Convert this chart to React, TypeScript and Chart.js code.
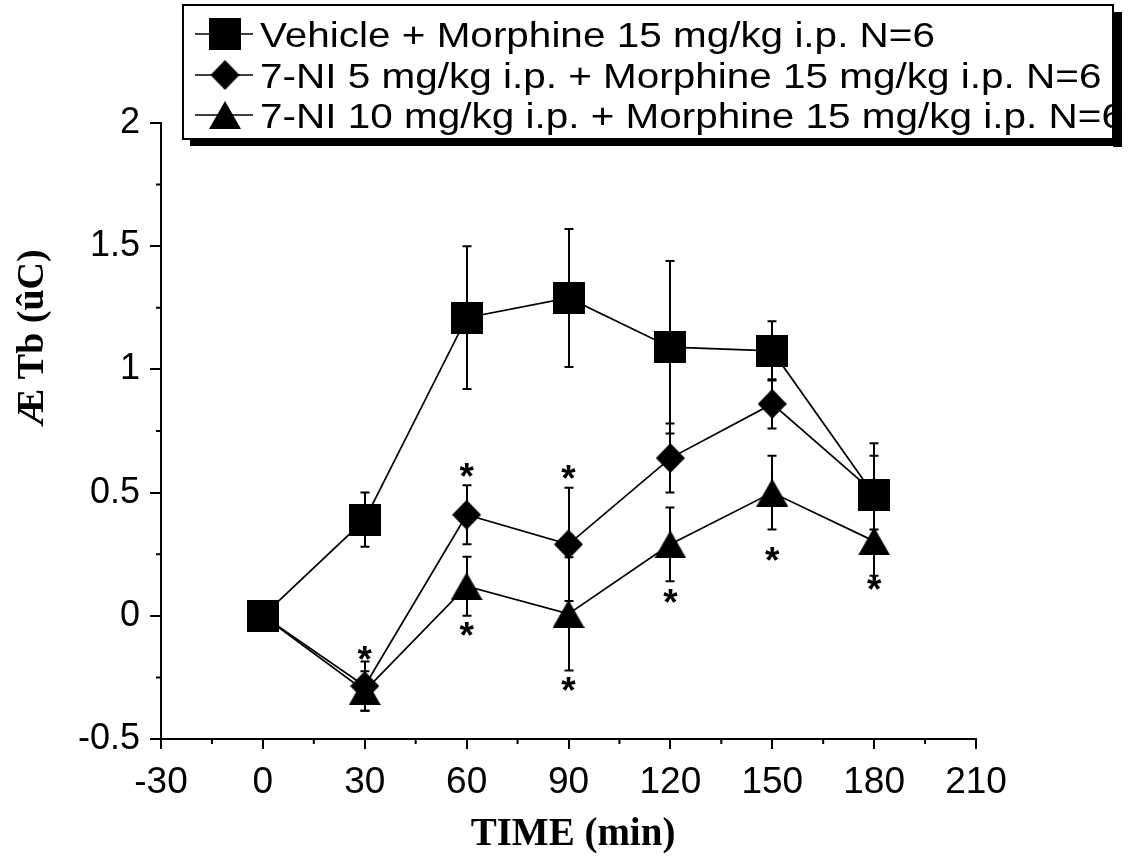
import React, { useEffect, useRef } from "react";
import { Chart, registerables } from "chart.js";

Chart.register(...registerables);

// ---- data ----
const times = [0, 30, 60, 90, 120, 150, 180];
const vehicle = [0, 0.39, 1.21, 1.29, 1.09, 1.075, 0.49];
const vehicleErr = [0, 0.11, 0.29, 0.28, 0.35, 0.12, 0.21];
const ni5 = [0, -0.285, 0.41, 0.29, 0.64, 0.86, 0.5];
const ni5Err = [0, 0.1, 0.12, 0.23, 0.14, 0.1, 0.15];
const ni10 = [0, -0.305, 0.12, 0.008, 0.29, 0.5, 0.303];
const ni10Err = [0, 0.08, 0.12, 0.23, 0.15, 0.15, 0.14];

const seriesLabels = [
  "Vehicle + Morphine 15 mg/kg i.p. N=6",
  "7-NI 5 mg/kg i.p. + Morphine 15 mg/kg i.p. N=6",
  "7-NI 10 mg/kg i.p. + Morphine 15 mg/kg i.p. N=6",
];

// significance marks (asterisks)
const starTimes = [30, 60, 60, 90, 90, 120, 150, 180];
const starValues = [-0.152, 0.591, -0.054, 0.582, -0.277, 0.081, 0.251, 0.132];

const xMinorTicks = [-15, 15, 45, 75, 105, 135, 165, 195];
const yMinorTicks = [-0.25, 0.25, 0.75, 1.25, 1.75];

const xTitle = "TIME (min)";
const yTitle = "Æ Tb (ûC)";

type Kind = "square" | "diamond" | "triangle";

function makeMarker(kind: Kind): HTMLCanvasElement {
  const c = document.createElement("canvas");
  const ctx = c.getContext("2d")!;
  if (kind === "square") {
    c.width = 32;
    c.height = 32;
    ctx.fillStyle = "#000";
    ctx.fillRect(0, 0, 32, 32);
  } else if (kind === "diamond") {
    c.width = 29;
    c.height = 30;
    ctx.fillStyle = "#000";
    ctx.beginPath();
    ctx.moveTo(14.5, 0);
    ctx.lineTo(29, 15);
    ctx.lineTo(14.5, 30);
    ctx.lineTo(0, 15);
    ctx.closePath();
    ctx.fill();
  } else {
    c.width = 32;
    c.height = 28;
    ctx.fillStyle = "#000";
    ctx.beginPath();
    ctx.moveTo(16, 0);
    ctx.lineTo(32, 28);
    ctx.lineTo(0, 28);
    ctx.closePath();
    ctx.fill();
  }
  return c;
}

export default function App() {
  const ref = useRef<HTMLCanvasElement | null>(null);

  useEffect(() => {
    if (!ref.current) return;
    const markers = [makeMarker("square"), makeMarker("diamond"), makeMarker("triangle")];
    const values = [vehicle, ni5, ni10];
    const errs = [vehicleErr, ni5Err, ni10Err];

    const errorBars = {
      id: "errorBars",
      beforeDatasetsDraw(chart: any) {
        const ctx = chart.ctx;
        const xs = chart.scales.x;
        const ys = chart.scales.y;
        ctx.save();
        ctx.strokeStyle = "#000";
        ctx.lineWidth = 2;
        for (let s = 0; s < values.length; s++) {
          for (let i = 0; i < times.length; i++) {
            const e = errs[s][i];
            if (!e) continue;
            const px = Math.round(xs.getPixelForValue(times[i]));
            const top = ys.getPixelForValue(values[s][i] + e);
            const bot = ys.getPixelForValue(values[s][i] - e);
            ctx.beginPath();
            ctx.moveTo(px, top);
            ctx.lineTo(px, bot);
            ctx.moveTo(px - 4.5, top);
            ctx.lineTo(px + 4.5, top);
            ctx.moveTo(px - 4.5, bot);
            ctx.lineTo(px + 4.5, bot);
            ctx.stroke();
          }
        }
        ctx.restore();
      },
      afterDatasetsDraw(chart: any) {
        const ctx = chart.ctx;
        const xs = chart.scales.x;
        const ys = chart.scales.y;
        ctx.save();
        ctx.fillStyle = "#000";
        ctx.font = "bold 37px 'Liberation Sans', Arial, sans-serif";
        ctx.textAlign = "center";
        ctx.textBaseline = "alphabetic";
        const m = ctx.measureText("*");
        const off = (m.actualBoundingBoxAscent - m.actualBoundingBoxDescent) / 2;
        for (let i = 0; i < starTimes.length; i++) {
          const px = xs.getPixelForValue(starTimes[i]);
          const py = ys.getPixelForValue(starValues[i]);
          ctx.fillText("*", px, py + off);
        }
        ctx.restore();
      },
      afterDraw(chart: any) {
        const ctx = chart.ctx;
        const xs = chart.scales.x;
        const ys = chart.scales.y;
        ctx.save();
        // minor ticks
        ctx.strokeStyle = "#000";
        ctx.lineWidth = 2;
        ctx.beginPath();
        const xb = chart.chartArea.bottom;
        for (const v of xMinorTicks) {
          const px = xs.getPixelForValue(v);
          ctx.moveTo(px, xb);
          ctx.lineTo(px, xb + 5);
        }
        const yl = chart.chartArea.left;
        for (const v of yMinorTicks) {
          const py = ys.getPixelForValue(v);
          ctx.moveTo(yl, py);
          ctx.lineTo(yl - 5, py);
        }
        ctx.stroke();

        // axis titles
        ctx.fillStyle = "#000";
        ctx.font = "bold 39px 'Liberation Serif', 'Times New Roman', serif";
        ctx.textAlign = "center";
        ctx.textBaseline = "alphabetic";
        ctx.fillText(xTitle, 573, 845);

        ctx.save();
        ctx.translate(33, 338);
        ctx.rotate(-Math.PI / 2);
        ctx.font = "bold 38px 'Liberation Serif', 'Times New Roman', serif";
        ctx.textBaseline = "middle";
        ctx.fillText(yTitle, 0, 0);
        ctx.restore();

        // legend box with shadow
        const L = 183, T = 5, R = 1113, B = 139;
        ctx.fillStyle = "#000";
        ctx.fillRect(R, T + 7, 9, B - T + 1);
        ctx.fillRect(L + 7, B, R - L + 2, 7);
        ctx.fillStyle = "#fff";
        ctx.fillRect(L, T, R - L, B - T);
        ctx.strokeStyle = "#000";
        ctx.lineWidth = 2;
        ctx.strokeRect(L, T, R - L, B - T);

        const rowsY = [34, 75, 115];
        ctx.font = "35px 'Liberation Sans', Arial, sans-serif";
        const w0 = ctx.measureText(seriesLabels[0]).width;
        const sx = 675 / w0;
        for (let s = 0; s < seriesLabels.length; s++) {
          const cy = rowsY[s];
          ctx.strokeStyle = "#000";
          ctx.lineWidth = 1.7;
          ctx.beginPath();
          ctx.moveTo(195, cy);
          ctx.lineTo(253, cy);
          ctx.stroke();
          const mk = markers[s];
          ctx.drawImage(mk, 225 - mk.width / 2, cy - mk.height / 2);
          ctx.save();
          ctx.translate(260, cy + 13);
          ctx.scale(sx, 1);
          ctx.fillStyle = "#000";
          ctx.textAlign = "left";
          ctx.textBaseline = "alphabetic";
          ctx.fillText(seriesLabels[s], 0, 0);
          ctx.restore();
        }
        ctx.restore();
      },
    };

    const datasets = values.map((vals, s) => ({
      label: seriesLabels[s],
      data: times.map((t, i) => ({ x: t, y: vals[i] })),
      borderColor: "#000",
      borderWidth: 1.7,
      backgroundColor: "#000",
      pointStyle: markers[s],
      pointRadius: 16,
      pointHoverRadius: 16,
      tension: 0,
      fill: false,
    }));

    const fmt = (v: any) => String(Math.round(Number(v) * 100) / 100);

    const chart = new Chart(ref.current, {
      type: "line",
      data: { datasets: datasets as any },
      options: {
        animation: false,
        responsive: false,
        devicePixelRatio: 1,
        events: [],
        layout: { padding: { top: 123, right: 152, left: 0, bottom: 0 } },
        plugins: {
          legend: { display: false },
          tooltip: { enabled: false },
          title: { display: false },
        },
        scales: {
          x: {
            type: "linear",
            min: -30,
            max: 210,
            afterFit: (s: any) => {
              s.height = 118;
            },
            ticks: {
              stepSize: 30,
              color: "#000",
              font: { family: "'Liberation Sans', Arial, sans-serif", size: 37 },
              padding: 12,
              maxRotation: 0,
              autoSkip: false,
              callback: fmt,
            },
            grid: {
              drawOnChartArea: false,
              drawTicks: true,
              tickLength: 10,
              color: "#000",
              lineWidth: 2,
            },
            border: { display: true, color: "#000", width: 2 },
          },
          y: {
            type: "linear",
            min: -0.5,
            max: 2,
            afterFit: (s: any) => {
              s.width = 161;
            },
            ticks: {
              stepSize: 0.5,
              color: "#000",
              font: { family: "'Liberation Sans', Arial, sans-serif", size: 36 },
              padding: 10,
              autoSkip: false,
              callback: fmt,
            },
            grid: {
              drawOnChartArea: false,
              drawTicks: true,
              tickLength: 11,
              color: "#000",
              lineWidth: 2,
            },
            border: { display: true, color: "#000", width: 2 },
          },
        },
      },
      plugins: [errorBars],
    });

    return () => chart.destroy();
  }, []);

  return (
    <div style={{ position: "absolute", left: 0, top: 0, width: 1128, height: 857, background: "#fff" }}>
      <canvas ref={ref} width={1128} height={857} style={{ display: "block", width: 1128, height: 857 }} />
    </div>
  );
}
